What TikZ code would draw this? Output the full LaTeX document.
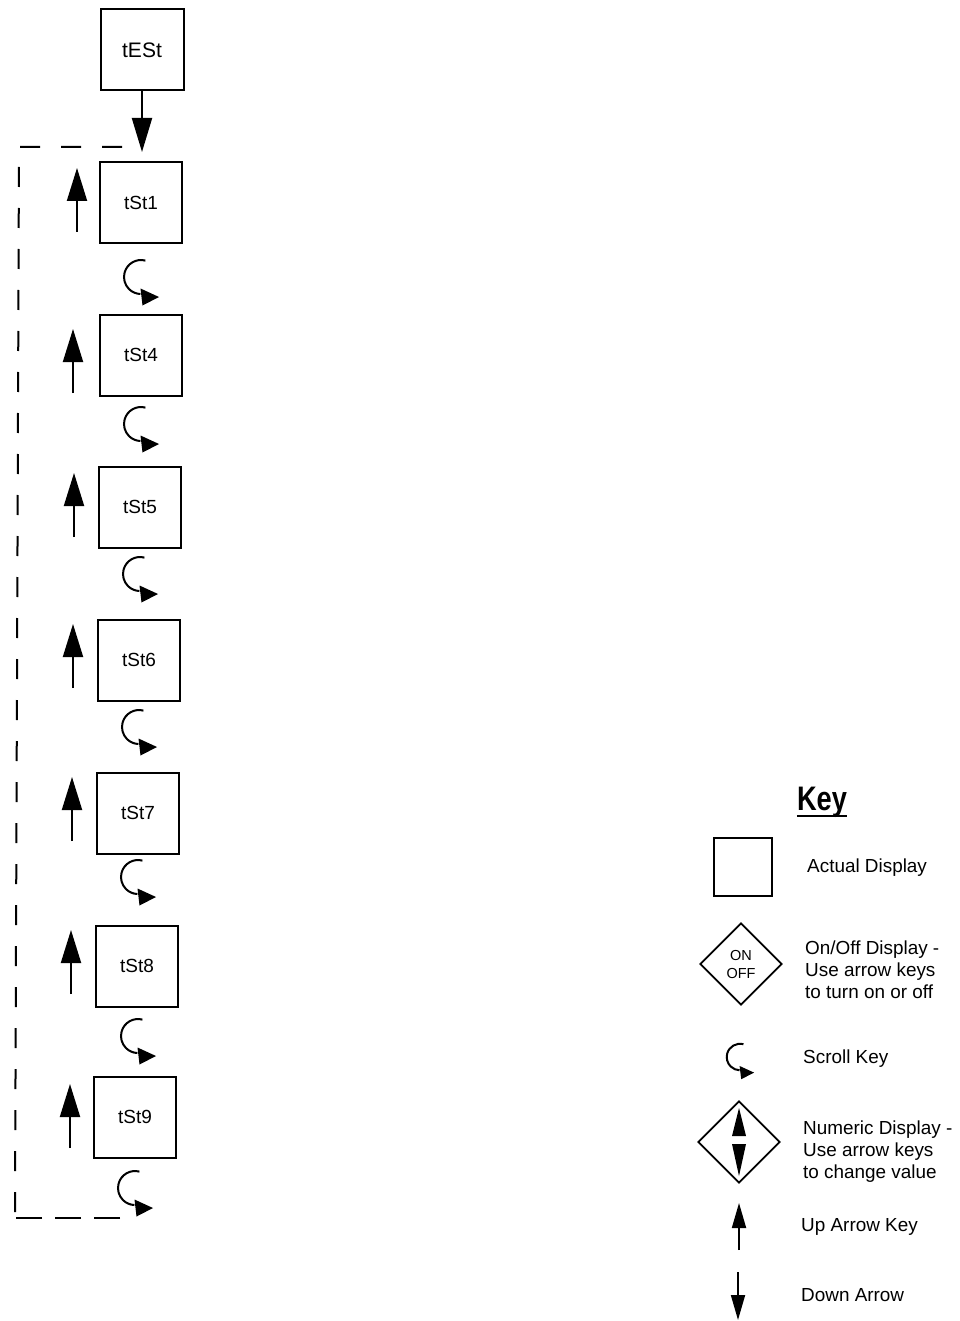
\documentclass[tikz,border=0pt]{standalone}
\usepackage{fontspec}
\setmainfont{Liberation Sans}
\usetikzlibrary{arrows.meta,shapes.geometric}
\begin{document}
\begin{tikzpicture}[x=1pt,y=-1pt,
  disp/.style={draw,line width=2pt,minimum width=82pt,minimum height=81pt,inner sep=0pt,font=\fontsize{19}{22}\selectfont},
  bigtip/.style={line width=2pt,-{Triangle[length=34pt,width=20pt]}},
  loopline/.style={line width=2pt,dash pattern=on 20pt off 21pt},
  bottomline/.style={line width=2pt,dash pattern=on 26pt off 13pt},
  keytext/.style={anchor=west,inner sep=0pt,align=left,font=\fontsize{18.9}{22}\selectfont},
  scrollkey/.pic={
    \draw[line width=2pt] (4.4pt,16.4pt) arc[start angle=75,end angle=268,radius=17pt];
    \fill (-0.5pt,-11.5pt) -- (18pt,-20pt) -- (1.5pt,-28.5pt) -- cycle;
  },
  upkey/.pic={
    \draw[line width=2pt,-{Triangle[length=33pt,width=20pt]}] (0pt,-32pt) -- (0pt,32pt);
  }
]
\useasboundingbox (0,0) rectangle (959,1321);

% display boxes
\node[disp,minimum width=83pt,font=\fontsize{21}{24}\selectfont] (tESt) at (142,50) {tESt};
\node[disp] (tSt1) at (141,203) {tSt1};
\node[disp] (tSt4) at (141,355) {tSt4};
\node[disp] (tSt5) at (140,507) {tSt5};
\node[disp] (tSt6) at (139,660) {tSt6};
\node[disp] (tSt7) at (138,813) {tSt7};
\node[disp] (tSt8) at (137,966) {tSt8};
\node[disp] (tSt9) at (135,1117) {tSt9};

% entry arrow
\coordinate (entry) at (142,152);
\draw[bigtip] (tESt.south -| entry) -- (entry);

% up arrows
\pic at (77,200) {upkey};
\pic at (73,361) {upkey};
\pic at (74,505) {upkey};
\pic at (73,656) {upkey};
\pic at (72,809) {upkey};
\pic at (71,962) {upkey};
\pic at (70,1116) {upkey};

% scroll keys
\pic at (141,277) {scrollkey};
\pic at (141,424) {scrollkey};
\pic at (140,574) {scrollkey};
\pic at (139,727) {scrollkey};
\pic at (138,877) {scrollkey};
\pic at (138,1036) {scrollkey};
\pic at (135,1188) {scrollkey};

% dashed return loop
\coordinate (lpA) at (120,1218);
\coordinate (lpB) at (15,1218);
\coordinate (lpC) at (19,147);
\coordinate (lpD) at (122,147);
\draw[loopline] (lpD) -- (lpC) -- ([yshift=6pt]lpB);
\draw[bottomline] (lpA) -- (lpB) -- ([yshift=6pt]lpB);

% key
\node[anchor=base,inner sep=0pt,font=\fontsize{34}{36}\selectfont\bfseries] (keytitle) at (822,810) {\scalebox{0.8}[1]{Key}};
\draw[line width=2.5pt] ([yshift=-6pt]keytitle.base west) -- ([yshift=-6pt]keytitle.base east);

\node[draw,line width=1.8pt,minimum size=58pt,inner sep=0pt] (keybox) at (743,867) {};
\node[keytext] (t1) at (807,868) {Actual Display};

\node[draw,diamond,aspect=1,line width=1.8pt,minimum size=82pt,inner sep=0pt,align=center,font=\fontsize{14.5}{18}\selectfont] (onoff) at (741,964) {ON\\OFF};
\node[keytext] (t2) at (805,970) {On/Off Display -\\Use arrow keys\\to turn on or off};

\pic[scale=0.78] at (740,1057) {scrollkey};
\node[keytext] (t3) at (803,1059) {Scroll Key};

\node[draw,diamond,aspect=1,line width=1.8pt,minimum size=82pt,inner sep=0pt] (numeric) at (739,1142) {};
\fill (739,1108) -- (746,1136) -- (732,1136) -- cycle;
\fill (739,1176) -- (746,1144) -- (732,1144) -- cycle;
\node[keytext] (t4) at (803,1152) {Numeric Display -\\Use arrow keys\\to change value};

\draw[line width=1.8pt,-{Triangle[length=25pt,width=14pt]}] (739,1250) -- (739,1203);
\node[keytext] (t5) at (801,1227) {Up Arrow Key};

\draw[line width=1.8pt,-{Triangle[length=25pt,width=14pt]}] (738,1272) -- (738,1320);
\node[keytext] (t6) at (801,1295) {Down Arrow};
\end{tikzpicture}
\end{document}
